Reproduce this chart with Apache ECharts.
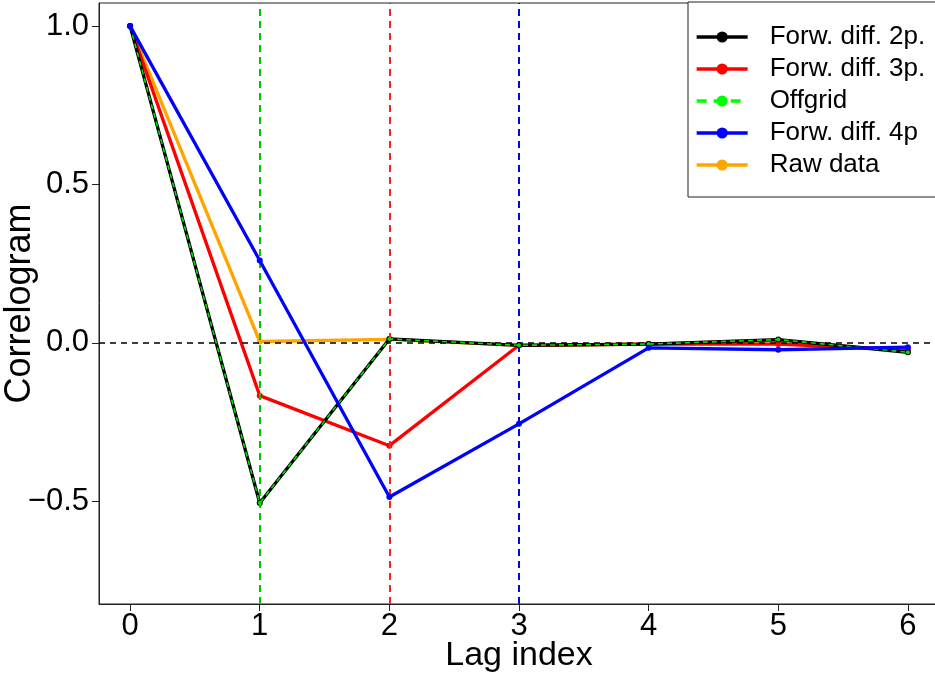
<!DOCTYPE html>
<html>
<head>
<meta charset="utf-8">
<script src="https://cdn.jsdelivr.net/npm/echarts@6/dist/echarts.min.js"></script>
<style>
  html, body { margin: 0; padding: 0; background: #fff; }
  #chart { width: 935px; height: 674px; }
</style>
</head>
<body>
<div id="chart"></div>
<script>
// Lag positions and correlogram values for each derivative scheme
const lags = [0, 1, 2, 3, 4, 5, 6];
const forwDiff2p = [1.0, -0.506, 0.012, -0.008, -0.004, 0.010, -0.030];
const forwDiff3p = [1.0, -0.167, -0.325, -0.008, -0.004, -0.004, -0.022];
const offgrid    = [1.0, -0.506, 0.012, -0.008, -0.004, 0.010, -0.030];
const forwDiff4p = [1.0, 0.260, -0.487, -0.256, -0.016, -0.022, -0.014];
const rawData    = [1.0, 0.004, 0.011, -0.008, -0.004, 0.008, -0.028];

const xTicks = [0, 1, 2, 3, 4, 5, 6];
const yTicks = [-0.5, 0, 0.5, 1.0];
const yTickLabels = ['\u22120.5', '0.0', '0.5', '1.0'];

// Reference lines: vertical markers at lags 1–3 and the zero level
const vLines = [
  { lag: 1, color: '#00c800' },
  { lag: 2, color: '#ff2020' },
  { lag: 3, color: '#0000ff' }
];
const zeroLevel = 0;

const FONT = '"Liberation Sans", Arial, Helvetica, sans-serif';

function pairs(values) {
  return lags.map((l, i) => [l, values[i]]);
}

function lineSeries(name, values, color, z, dashed) {
  return {
    name: name,
    type: 'line',
    data: pairs(values),
    z: z,
    symbol: 'circle',
    symbolSize: dashed ? 4 : 6,
    showSymbol: true,
    itemStyle: { color: color },
    lineStyle: {
      color: color,
      width: dashed ? 1.6 : 3.3,
      type: dashed ? [5, 4] : 'solid'
    },
    emphasis: { disabled: true }
  };
}

const chart = echarts.init(document.getElementById('chart'), null, { renderer: 'canvas' });

const option = {
  animation: false,
  backgroundColor: '#ffffff',
  textStyle: { fontFamily: FONT },
  grid: {
    left: 99, top: 3, right: -4, bottom: 70,
    outerBoundsMode: 'none',
    containLabel: false,
    show: true, borderColor: '#222', borderWidth: 1,
    backgroundColor: 'transparent'
  },
  legend: {
    data: [
      'Forw. diff. 2p.',
      'Forw. diff. 3p.',
      {
        name: 'Offgrid',
        itemStyle: { color: '#00ff00' },
        lineStyle: { color: '#00ff00', width: 3.3, type: [10, 7] }
      },
      'Forw. diff. 4p',
      'Raw data'
    ],
    orient: 'vertical',
    left: 688, top: 2,
    padding: [22, 40, 19, 7],
    itemWidth: 51, itemHeight: 14, itemGap: 6,
    borderColor: '#222', borderWidth: 1,
    backgroundColor: '#ffffff',
    selectedMode: false,
    lineStyle: { width: 3.3 },
    textStyle: {
      fontFamily: FONT, fontSize: 26, lineHeight: 26, color: '#000',
      padding: [0, 0, 0, 17]
    }
  },
  xAxis: {
    type: 'value',
    min: -0.24, max: 6.24,
    name: 'Lag index',
    nameLocation: 'middle',
    nameMoveOverlap: false,
    nameGap: 35,
    nameTextStyle: { fontFamily: FONT, fontSize: 34, color: '#000' },
    axisLine: { show: true, onZero: false, lineStyle: { color: '#222', width: 1 } },
    axisTick: { show: true, length: 7, customValues: xTicks, lineStyle: { color: '#222' } },
    axisLabel: {
      customValues: xTicks, fontFamily: FONT, fontSize: 31, color: '#000', margin: 7,
      formatter: v => String(Math.round(v))
    },
    splitLine: { show: false }
  },
  yAxis: {
    type: 'value',
    min: -0.825, max: 1.073,
    name: 'Correlogram',
    nameLocation: 'middle',
    nameMoveOverlap: false,
    nameGap: 61,
    nameTextStyle: { fontFamily: FONT, fontSize: 36, color: '#000' },
    axisLine: { show: true, onZero: false, lineStyle: { color: '#222', width: 1 } },
    axisTick: { show: true, length: 7, customValues: yTicks, lineStyle: { color: '#222' } },
    axisLabel: {
      customValues: yTicks, fontFamily: FONT, fontSize: 31, color: '#000', margin: 10,
      formatter: v => {
        const i = yTicks.findIndex(t => Math.abs(t - v) < 1e-9);
        return i >= 0 ? yTickLabels[i] : '';
      }
    },
    splitLine: { show: false }
  },
  series: [
    {
      name: 'refLines',
      type: 'line',
      data: [],
      z: 1,
      silent: true,
      markLine: {
        silent: true,
        symbol: 'none',
        label: { show: false },
        emphasis: { disabled: true },
        data: vLines.map(v => ({
          xAxis: v.lag,
          lineStyle: { color: v.color, width: 2, type: [7, 5] }
        })).concat([{
          yAxis: zeroLevel,
          lineStyle: { color: '#000', width: 1.5, type: [6, 5] }
        }])
      }
    },
    lineSeries('Raw data', rawData, '#ffa500', 2, false),
    lineSeries('Forw. diff. 3p.', forwDiff3p, '#ff0000', 3, false),
    lineSeries('Forw. diff. 2p.', forwDiff2p, '#000000', 4, false),
    lineSeries('Offgrid', offgrid, '#00e000', 5, true),
    lineSeries('Forw. diff. 4p', forwDiff4p, '#0000ff', 6, false)
  ]
};

chart.setOption(option);
</script>
</body>
</html>
